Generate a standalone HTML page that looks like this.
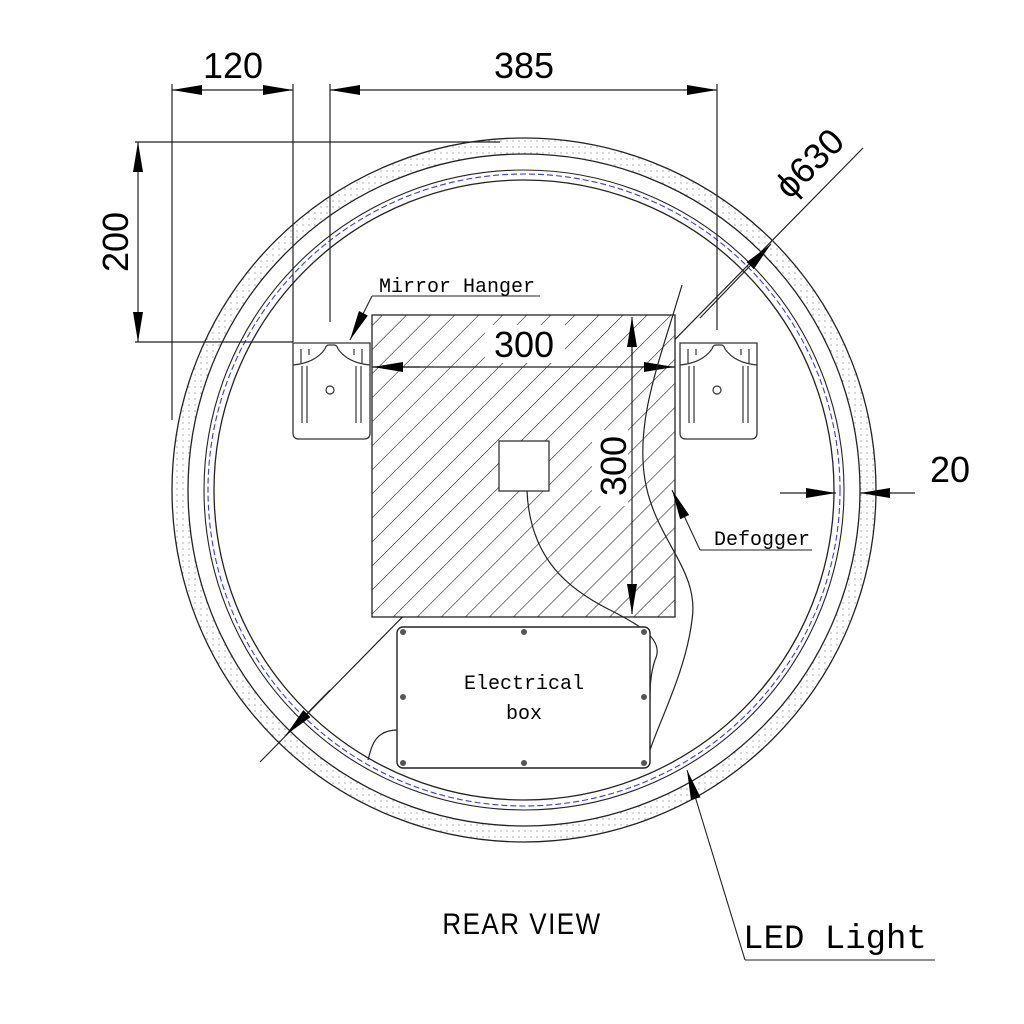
<!DOCTYPE html>
<html><head><meta charset="utf-8"><style>html,body{margin:0;padding:0;background:#fff}svg{display:block}</style></head>
<body>
<svg width="1024" height="1024" viewBox="0 0 1024 1024" xmlns="http://www.w3.org/2000/svg" font-family="Liberation Sans, sans-serif">
<defs>
<pattern id="hatch" patternUnits="userSpaceOnUse" width="17" height="17" patternTransform="rotate(45)">
<line x1="0" y1="0" x2="0" y2="17" stroke="#222" stroke-width="1.2"/>
</pattern>
<pattern id="dots" patternUnits="userSpaceOnUse" width="6" height="6">
<circle cx="3" cy="3" r="0.6" fill="#777"/>
</pattern>
<g id="hanger">
<path d="M0,0 H77 V90 Q77,96 71,96 H6 Q0,96 0,90 Z" fill="#fff" stroke="#333" stroke-width="1.3"/>
<path d="M0,22 Q22,20 32,6 M77,22 Q55,20 45,6 M32,6 Q33,2 36,2 H41 Q44,2 45,6" fill="none" stroke="#333" stroke-width="1.2"/>
<path d="M9,23 V80 M14,23 V80 M63,23 V80 M68,23 V80" stroke="#333" stroke-width="1.2"/>
<path d="M8,6 V20 M16,6 V12 M61,6 V12 M69,6 V20" stroke="#333" stroke-width="1.2"/>
<circle cx="37" cy="47" r="4" fill="none" stroke="#333" stroke-width="1.2"/>
</g>
<marker id="ar" viewBox="0 0 30 10" refX="30" refY="5" markerWidth="30" markerHeight="10" markerUnits="userSpaceOnUse" orient="auto"><path d="M0,0 L30,5 L0,10 Z" fill="#000"/></marker>
</defs>

<circle cx="524" cy="490" r="344" fill="none" stroke="url(#dots)" stroke-width="15"/>
<circle cx="524" cy="490" r="352" fill="none" stroke="#222" stroke-width="1.3"/>
<circle cx="524" cy="490" r="336" fill="none" stroke="#222" stroke-width="1.3"/>
<circle cx="524" cy="490" r="316" fill="none" stroke="#3a3ad0" stroke-width="1.1" stroke-dasharray="6,3"/>
<circle cx="524" cy="490" r="320" fill="none" stroke="#222" stroke-width="1.1"/>
<circle cx="524" cy="490" r="310" fill="none" stroke="#222" stroke-width="1.3"/>

<g stroke="#222" stroke-width="1.2" fill="none">
<line x1="172" y1="84" x2="172" y2="420"/>
<line x1="293" y1="84" x2="293" y2="342"/>
<line x1="330" y1="84" x2="330" y2="322"/>
<line x1="717" y1="84" x2="717" y2="330"/>
<line x1="135" y1="142" x2="500" y2="142"/>
<line x1="135" y1="342" x2="293" y2="342"/>
</g>
<g stroke="#222" stroke-width="1.2">
<line x1="232" y1="90" x2="172" y2="90" marker-end="url(#ar)"/>
<line x1="232" y1="90" x2="293" y2="90" marker-end="url(#ar)"/>
<line x1="524" y1="90" x2="330" y2="90" marker-end="url(#ar)"/>
<line x1="524" y1="90" x2="717" y2="90" marker-end="url(#ar)"/>
<line x1="138" y1="242" x2="138" y2="142" marker-end="url(#ar)"/>
<line x1="138" y1="242" x2="138" y2="342" marker-end="url(#ar)"/>
<line x1="780" y1="493" x2="836" y2="493" marker-end="url(#ar)"/>
<line x1="915" y1="493" x2="860" y2="493" marker-end="url(#ar)"/>
<line x1="863" y1="148" x2="260" y2="762"/>
<line x1="700" y1="318" x2="771" y2="244" marker-end="url(#ar)"/>
<line x1="330" y1="690" x2="286" y2="735" marker-end="url(#ar)"/>
</g>

<rect x="372" y="315" width="303" height="302" fill="#fff"/>
<rect x="372" y="315" width="303" height="302" fill="url(#hatch)" stroke="#222" stroke-width="1.3"/>
<rect x="485" y="325" width="80" height="38" fill="#fff"/>
<rect x="592" y="430" width="36" height="76" fill="#fff"/>
<rect x="499" y="441" width="50" height="50" fill="#fff" stroke="#222" stroke-width="1.2"/>
<g stroke="#222" stroke-width="1.2">
<line x1="372" y1="367" x2="675" y2="367"/>
<line x1="420" y1="367" x2="373" y2="367" marker-end="url(#ar)"/>
<line x1="640" y1="367" x2="674" y2="367" marker-end="url(#ar)"/>
<line x1="632" y1="320" x2="632" y2="612"/>
<line x1="632" y1="360" x2="632" y2="317" marker-end="url(#ar)"/>
<line x1="632" y1="570" x2="632" y2="614" marker-end="url(#ar)"/>
</g>
<text x="524" y="357" font-size="36" text-anchor="middle">300</text>
<text transform="translate(626,466) rotate(-90)" font-size="36" text-anchor="middle">300</text>

<g fill="none" stroke="#222" stroke-width="1.2">
<path d="M682,285 C660,360 635,420 645,480 C655,540 700,570 692,620 C686,670 660,720 650,750"/>
<path d="M527,491 C530,560 570,590 610,610 C640,625 665,640 655,660 C650,675 650,690 650,700"/>
<path d="M398,730 C375,730 372,745 368,760"/>
</g>

<rect x="397" y="627" width="253" height="141" rx="6" fill="#fff" stroke="#222" stroke-width="1.4"/>
<g fill="#555">
<circle cx="403" cy="632" r="3"/><circle cx="524" cy="632" r="3"/><circle cx="644" cy="632" r="3"/>
<circle cx="403" cy="697" r="3"/><circle cx="644" cy="697" r="3"/>
<circle cx="403" cy="763" r="3"/><circle cx="524" cy="763" r="3"/><circle cx="644" cy="763" r="3"/>
</g>
<text x="524" y="689" font-family="Liberation Mono, monospace" font-size="20" text-anchor="middle">Electrical</text>
<text x="524" y="719" font-family="Liberation Mono, monospace" font-size="20" text-anchor="middle">box</text>

<use href="#hanger" x="293" y="343"/>
<use href="#hanger" x="680" y="343"/>

<g stroke="#222" stroke-width="1.1" fill="none">
<line x1="372" y1="296" x2="540" y2="296"/>
<line x1="372" y1="296" x2="350" y2="340" marker-end="url(#ar)"/>
<line x1="812" y1="550" x2="700" y2="550"/>
<line x1="700" y1="550" x2="672" y2="490" marker-end="url(#ar)"/>
<line x1="935" y1="960" x2="745" y2="960"/>
<line x1="745" y1="960" x2="687" y2="770" marker-end="url(#ar)"/>
</g>

<text x="233" y="78" font-size="36" text-anchor="middle">120</text>
<text x="524" y="78" font-size="36" text-anchor="middle">385</text>
<text transform="translate(128,242) rotate(-90)" font-size="36" text-anchor="middle">200</text>
<text x="950" y="482" font-size="36" text-anchor="middle">20</text>
<text transform="translate(818,172) rotate(-45)" font-size="36" text-anchor="middle">ϕ630</text>
<text x="457" y="292" font-family="Liberation Mono, monospace" font-size="20" text-anchor="middle">Mirror Hanger</text>
<text x="762" y="545" font-family="Liberation Mono, monospace" font-size="20" text-anchor="middle">Defogger</text>
<text transform="translate(522,934) scale(1,1.15)" font-size="26" letter-spacing="1.5" text-anchor="middle">REAR VIEW</text>
<text x="835" y="948" font-family="Liberation Mono, monospace" font-size="34" text-anchor="middle">LED Light</text>
</svg>
</body></html>
